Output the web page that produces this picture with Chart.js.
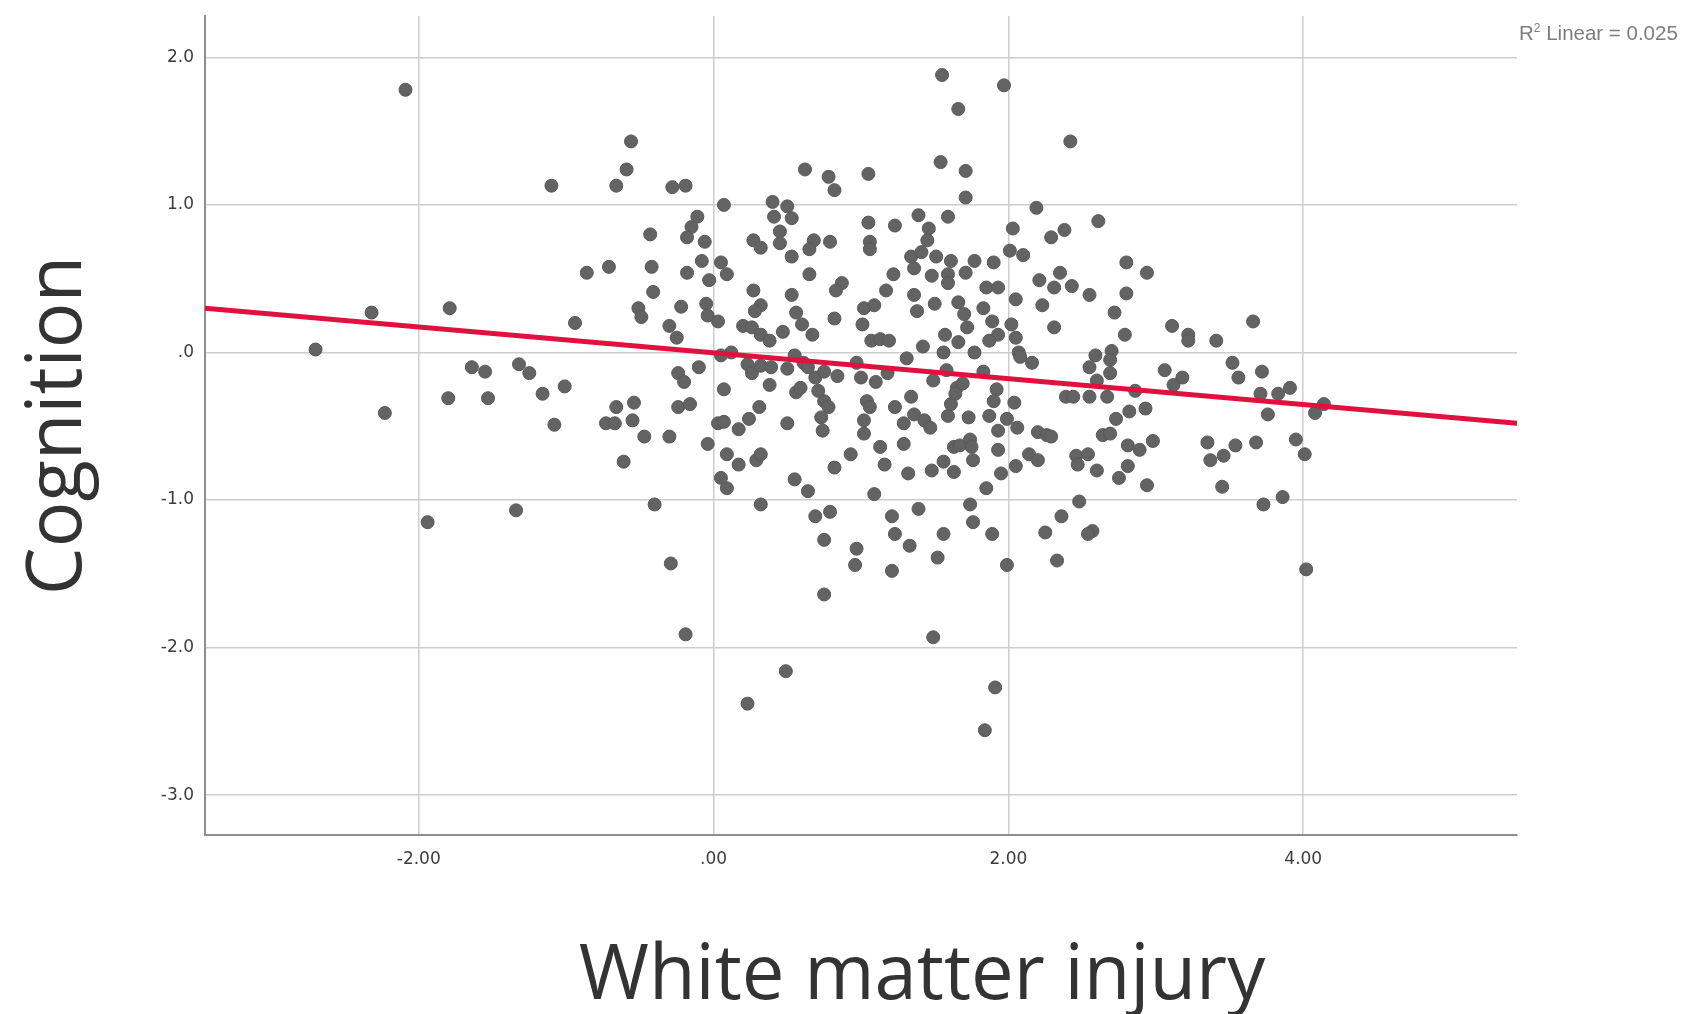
<!DOCTYPE html>
<html>
<head>
<meta charset="utf-8">
<title>Cognition vs White matter injury</title>
<script src="https://cdn.jsdelivr.net/npm/chart.js@4.4.1/dist/chart.umd.min.js"></script>
<style>
  html, body { margin: 0; padding: 0; background: #ffffff; }
  #wrap { width: 1693px; height: 1014px; position: relative; }
  canvas { display: block; }
</style>
</head>
<body>
<div id="wrap"><canvas id="chart" width="1693" height="1014"></canvas></div>
<script>
// White matter injury (x) and cognition (y) scores, one entry per participant.
const whiteMatter = [
  -2.09, -0.56, -0.59, -0.66, -1.10, -0.71, -0.86,
  1.55, 1.66, 0.62, 0.78, 0.82, 1.05, 1.54, 1.71, 1.71, -0.28,
  -0.19, 0.07, 0.40, 0.50, 0.41, 0.53, 1.05, 1.23, 1.39, 1.59,
  1.46, -0.11, -0.15, -0.18, -0.43, -0.06, 0.45, 0.45, 0.27, 0.32,
  0.68, 0.65, 0.79, 1.06, 1.06, 0.53, 1.34, 1.36, 1.41, 1.45,
  1.51, 1.61, 1.59, 1.59, 1.71, 1.77, 1.48, 1.22, 1.17, 1.36,
  0.65, 0.87, 0.83, -0.42, -0.18, -0.08, -0.03, 0.05, 0.09, -0.41,
  0.27, 0.53,
  1.97, 2.42, 2.19, 2.61, 2.03, 2.29, 2.38, 2.01, 2.10, 1.90,
  2.80, 2.94, 2.21, 2.35, 2.31, 2.43, 2.55, 2.80, 1.85, 1.93,
  -2.32, -2.70, -1.79, -0.94, -1.64, -1.55, -1.32, -1.25, -1.80, -1.53,
  -2.23, -1.16, -1.01, -1.08, -0.66, -0.73, -0.67, -0.54, -0.55, -0.61,
  -1.34, -1.94,
  -0.51, -0.49, -0.22, -0.05, -0.04, 0.03, 0.32, 0.28, 0.56, 0.60,
  0.82, 1.02, 1.09, 1.01, 1.38, 1.50, 1.66, 1.70, 1.72, -0.30,
  -0.25, 0.20, 0.26, 0.32, 0.38, 0.47, 0.67, 1.07, 1.13, 1.19,
  1.42, 1.57, 1.56, 1.66, 1.77, 0.12, 0.05, 0.23, 0.26, 0.32,
  0.39, 0.50, 0.55, 0.61, 0.64, 0.69, 0.75, 0.84, 0.97, 1.00,
  1.10, 1.18, 1.31, 1.49, 1.58, 1.65, 1.69, -0.10, -0.24, -0.20,
  0.07, 0.38, 0.56, 0.59, 0.71, 0.75, 0.78, -0.24, -0.16, 0.31,
  0.03, 0.07, 0.17, 0.24, 0.50, 0.73, 0.74, 1.02, 1.02, 1.04,
  1.06, 1.23, 1.34, 1.36, 1.29, 1.43, 1.47, 1.59, 1.61, 1.64,
  1.73, -0.47, -0.30, -0.04, 0.09, 0.17, 0.29, 0.32, 0.55, 0.64,
  0.82, 0.93, 1.13, 1.16, 1.29, 1.32, 1.48, 1.56, 1.63, 1.63,
  1.67, 1.74, 1.76, 0.05, 0.09, -0.40, 0.32, 0.69, 0.79, 1.09,
  1.21, 1.39, 1.74, 1.76,
  2.05, 2.23, 1.83, 1.89, 2.02, 2.05, 1.93, 1.87, 2.07, 2.08,
  2.16, 2.31, 2.72, 2.79, 3.11, 3.22, 3.22, 3.41, 3.66, 2.59,
  2.70, 2.69, 2.55, 2.69, 2.60, 3.06, 3.18, 3.12, 3.52, 3.56,
  3.72, 3.91, 3.71, 3.83, 3.76, 4.14, 4.08, 1.83, 1.92, 1.90,
  2.04, 1.87, 1.99, 1.93, 2.06, 1.75, 1.93, 2.05, 1.95, 2.20,
  2.26, 2.29, 2.14, 2.20, 2.39, 2.44, 2.55, 2.67, 2.86, 2.73,
  2.82, 2.93, 2.64, 2.69, 2.81, 2.89, 2.98, 2.46, 2.54, 2.47,
  2.60, 2.81, 2.75, 2.94, 1.85, 3.35, 3.54, 3.37, 3.46, 3.68,
  3.95, 4.01, 3.45, 3.73, 3.86, 2.48, 2.36,
  -0.29, -0.19, 0.75, 0.75, 0.97, 0.96, 1.23, 1.33, 1.21, 1.56,
  1.52, 1.49, 0.49, 0.23, 1.89, 2.25, 2.57, 2.54, 1.99, 2.33,
  4.02, 1.91, 1.84
];

const cognition = [
  1.78, 1.43, 1.24, 1.13, 1.13, 0.58, 0.54,
  1.88, 1.65, 1.24, 1.19, 1.10, 1.21, 1.29, 1.23, 1.05, 1.12,
  1.13, 1.00, 1.02, 0.99, 0.92, 0.91, 0.88, 0.86, 0.93, 0.92,
  0.84, 0.92, 0.85, 0.78, 0.80, 0.75, 0.82, 0.74, 0.76, 0.71,
  0.76, 0.70, 0.75, 0.75, 0.70, 0.65, 0.65, 0.57, 0.68, 0.76,
  0.65, 0.62, 0.53, 0.47, 0.54, 0.62, 0.52, 0.53, 0.42, 0.39,
  0.53, 0.47, 0.42, 0.58, 0.54, 0.62, 0.49, 0.61, 0.53, 0.41,
  0.42, 0.39,
  1.81, 1.43, 0.98, 0.89, 0.84, 0.78, 0.83, 0.69, 0.66, 0.61,
  0.61, 0.54, 0.49, 0.54, 0.44, 0.45, 0.39, 0.40, 0.44, 0.44,
  0.27, 0.02, 0.30, 0.20, -0.10, -0.13, -0.08, -0.14, -0.31, -0.31,
  -0.41, -0.28, -0.23, -0.49, -0.37, -0.48, -0.48, -0.34, -0.46, -0.74,
  -1.07, -1.15,
  0.30, 0.24, 0.31, 0.33, 0.25, 0.21, 0.32, 0.28, 0.27, 0.19,
  0.23, 0.30, 0.32, 0.19, 0.28, 0.33, 0.34, 0.26, 0.17, 0.18,
  0.10, 0.18, 0.17, 0.12, 0.08, 0.14, 0.12, 0.08, 0.09, 0.08,
  0.04, 0.12, 0.00, 0.07, 0.00, 0.00, -0.02, -0.08, -0.14, -0.09,
  -0.10, -0.11, -0.02, -0.07, -0.10, -0.17, -0.13, -0.16, -0.07, -0.17,
  -0.20, -0.14, -0.04, -0.19, -0.12, -0.24, -0.21, -0.10, -0.14, -0.20,
  -0.25, -0.22, -0.27, -0.24, -0.26, -0.33, -0.37, -0.37, -0.35, -0.37,
  -0.48, -0.47, -0.52, -0.45, -0.48, -0.44, -0.53, -0.46, -0.55, -0.33,
  -0.37, -0.37, -0.30, -0.42, -0.48, -0.46, -0.51, -0.43, -0.35, -0.28,
  -0.44, -0.57, -0.57, -0.62, -0.69, -0.76, -0.73, -0.69, -0.86, -0.94,
  -0.78, -0.69, -0.64, -0.76, -0.62, -0.82, -0.80, -0.74, -0.81, -0.64,
  -0.63, -0.59, -0.73, -0.85, -0.92, -1.03, -1.03, -1.11, -1.08, -0.96,
  -1.11, -1.06, -1.03, -1.15,
  0.36, 0.32, 0.30, 0.21, 0.19, 0.10, 0.12, 0.08, 0.00, -0.03,
  -0.07, 0.17, 0.27, 0.12, 0.18, 0.12, 0.08, 0.08, 0.21, -0.02,
  0.01, -0.05, -0.10, -0.14, -0.19, -0.12, -0.17, -0.22, -0.07, -0.17,
  -0.13, -0.24, -0.28, -0.28, -0.42, -0.35, -0.41, -0.13, -0.25, -0.33,
  -0.34, -0.43, -0.45, -0.53, -0.51, -0.64, -0.66, -0.77, -0.82, -0.54,
  -0.56, -0.57, -0.69, -0.73, -0.30, -0.30, -0.30, -0.30, -0.26, -0.45,
  -0.40, -0.38, -0.56, -0.55, -0.63, -0.66, -0.60, -0.70, -0.69, -0.76,
  -0.80, -0.77, -0.85, -0.90, -0.92, -0.61, -0.63, -0.73, -0.70, -0.61,
  -0.59, -0.69, -0.91, -1.03, -0.98, -1.01, -1.11,
  -1.43, -1.91, -1.27, -1.64, -1.33, -1.44, -1.23, -1.31, -1.48, -1.23,
  -1.39, -1.93, -2.16, -2.38, -1.23, -1.22, -1.21, -1.23, -1.44, -1.41,
  -1.47, -2.27, -2.56
];

// Linear fit line, given by its ends at the edges of the x range.
const fitX = [-3.45, 5.45];
const fitY = [0.30, -0.48];
const fitLabel = ['R', '2', ' Linear = 0.025'];

// Axis ranges and tick labels.
const xRange = [-3.45, 5.45];
const yRange = [-3.27, 2.28];
const xTicks = [-2, 0, 2, 4];
const xTickLabels = ['-2.00', '.00', '2.00', '4.00'];
const yTicks = [-3, -2, -1, 0, 1, 2];
const yTickLabels = ['-3.0', '-2.0', '-1.0', '.0', '1.0', '2.0'];
const xTitle = 'White matter injury';
const yTitle = 'Cognition';

const points = whiteMatter.map((x, i) => ({ x: x, y: cognition[i] }));
const fitPoints = fitX.map((x, i) => ({ x: x, y: fitY[i] }));

// Axis titles and the fit label are drawn on the canvas after the chart.
const textLayer = {
  id: 'textLayer',
  afterDraw(chart) {
    const ctx = chart.ctx;
    const a = chart.chartArea;
    ctx.save();
    ctx.fillStyle = '#333333';
    ctx.font = '400 76px "Open Sans", "Noto Sans", sans-serif';
    ctx.textAlign = 'center';
    ctx.textBaseline = 'alphabetic';
    ctx.fillText(xTitle, (a.left + a.right) / 2 + 61, 999);
    ctx.save();
    ctx.translate(81, (a.top + a.bottom) / 2);
    ctx.rotate(-Math.PI / 2);
    ctx.fillText(yTitle, 0, 0);
    ctx.restore();

    ctx.textAlign = 'left';
    ctx.fillStyle = '#7d7d7d';
    let x = a.right + 2;
    const base = 40;
    ctx.font = '20.5px "Liberation Sans", Arial, sans-serif';
    ctx.fillText(fitLabel[0], x, base);
    x += ctx.measureText(fitLabel[0]).width;
    ctx.font = '12px "Liberation Sans", Arial, sans-serif';
    ctx.fillText(fitLabel[1], x, base - 8);
    x += ctx.measureText(fitLabel[1]).width;
    ctx.font = '20.5px "Liberation Sans", Arial, sans-serif';
    ctx.fillText(fitLabel[2], x, base);
    ctx.restore();
  }
};

function build() {
  new Chart(document.getElementById('chart'), {
    type: 'scatter',
    data: {
      datasets: [
        {
          type: 'line',
          label: 'Linear fit',
          data: fitPoints,
          borderColor: '#e0103f',
          borderWidth: 5,
          pointRadius: 0,
          fill: false,
          order: 0
        },
        {
          type: 'scatter',
          label: 'Participants',
          data: points,
          pointRadius: 6.5,
          pointBackgroundColor: '#636363',
          pointBorderColor: '#595959',
          pointBorderWidth: 1,
          order: 1
        }
      ]
    },
    options: {
      responsive: false,
      devicePixelRatio: 1,
      animation: false,
      events: [],
      layout: { padding: { top: 16, right: 176, left: 0, bottom: 0 } },
      plugins: {
        legend: { display: false },
        tooltip: { enabled: false },
        title: { display: false }
      },
      scales: {
        x: {
          type: 'linear',
          min: xRange[0],
          max: xRange[1],
          afterBuildTicks: (s) => { s.ticks = xTicks.map(v => ({ value: v })); },
          afterFit: (s) => { s.height = 179; s.paddingLeft = 0; s.paddingRight = 0; },
          ticks: {
            callback: (v) => xTickLabels[xTicks.indexOf(v)],
            font: { family: '"DejaVu Sans", sans-serif', size: 17 },
            color: '#3c3c3c',
            padding: 14,
            maxRotation: 0
          },
          grid: { color: '#cdcdcd', lineWidth: 1.5, drawTicks: false },
          border: { display: true, color: '#8e8e8e', width: 2 }
        },
        y: {
          type: 'linear',
          min: yRange[0],
          max: yRange[1],
          afterBuildTicks: (s) => { s.ticks = yTicks.map(v => ({ value: v })); },
          afterFit: (s) => { s.width = 205; s.paddingTop = 0; s.paddingBottom = 0; },
          ticks: {
            callback: (v) => yTickLabels[yTicks.indexOf(v)],
            font: { family: '"DejaVu Sans", sans-serif', size: 17 },
            color: '#3c3c3c',
            padding: 11
          },
          grid: { color: '#cdcdcd', lineWidth: 1.5, drawTicks: false },
          border: { display: true, color: '#8e8e8e', width: 2 }
        }
      }
    },
    plugins: [textLayer]
  });
}

const fontLoads = [
  '76px "Open Sans"',
  '17px "DejaVu Sans"',
  '20px "Liberation Sans"'
].map(f => document.fonts.load(f).catch(() => null));
Promise.all(fontLoads).then(build, build);
</script>
</body>
</html>
